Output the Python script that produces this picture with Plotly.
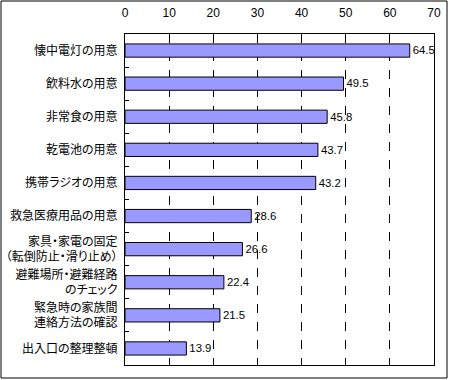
import plotly.graph_objects as go

categories = [
    "懐中電灯の用意",
    "飲料水の用意",
    "非常食の用意",
    "乾電池の用意",
    "携帯ラジオの用意",
    "救急医療用品の用意",
    "家具・家電の固定<br>（転倒防止・滑り止め）",
    "避難場所・避難経路<br>のチェック",
    "緊急時の家族間<br>連絡方法の確認",
    "出入口の整理整頓",
]
values = [64.5, 49.5, 45.8, 43.7, 43.2, 28.6, 26.6, 22.4, 21.5, 13.9]
x_ticks = [0, 10, 20, 30, 40, 50, 60, 70]

W, H = 450, 380
L, R, T, B = 125, 16, 34, 15

fig = go.Figure(go.Bar(
    x=values, y=categories, orientation="h",
    marker=dict(color="#9999FF", line=dict(color="black", width=1)),
    text=[f"{v:.1f}" for v in values], textposition="outside",
    textfont=dict(family="Liberation Sans, Arial", size=12, color="black"),
    cliponaxis=False, width=0.4, hoverinfo="skip",
))

fig.update_layout(
    width=W, height=H,
    margin=dict(l=L, r=R, t=T, b=B, pad=0),
    paper_bgcolor="white", plot_bgcolor="white",
    showlegend=False,
    font=dict(family="Noto Sans CJK JP", size=12, color="black"),
    xaxis=dict(
        side="top", range=[0, 70], tickvals=x_ticks,
        showgrid=True, gridcolor="black", griddash="dash", gridwidth=1,
        showline=True, linecolor="black", linewidth=1, mirror=True,
        ticks="", zeroline=False, automargin=False,
        tickfont=dict(family="Liberation Sans, Arial", size=12),
        ticklabelstandoff=11,
    ),
    yaxis=dict(
        type="category", autorange="reversed", automargin=False,
        showline=True, linecolor="black", linewidth=1, mirror=True,
        ticks="inside", ticklen=4, tickcolor="black", tickson="boundaries",
        showgrid=False,
        tickfont=dict(family="Noto Sans CJK JP", size=12),
        ticklabelstandoff=4,
    ),
    shapes=[dict(
        type="rect", xref="paper", yref="paper",
        x0=(1 - L) / (W - L - R), x1=(447 - L) / (W - L - R),
        y0=(H - B - 378) / (H - T - B), y1=(H - B - 1) / (H - T - B),
        line=dict(color="black", width=1), fillcolor="rgba(0,0,0,0)",
        layer="above",
    )],
)

fig.write_html(
    "out.html",
    config={"displayModeBar": False, "staticPlot": True},
    post_script=(
        "document.body.style.margin='0';document.body.style.overflow='hidden';"
        "var st=document.createElement('style');"
        "st.textContent='.ytick text{font-feature-settings:\"palt\" 1;}';"
        "document.head.appendChild(st);"
    ),
)
